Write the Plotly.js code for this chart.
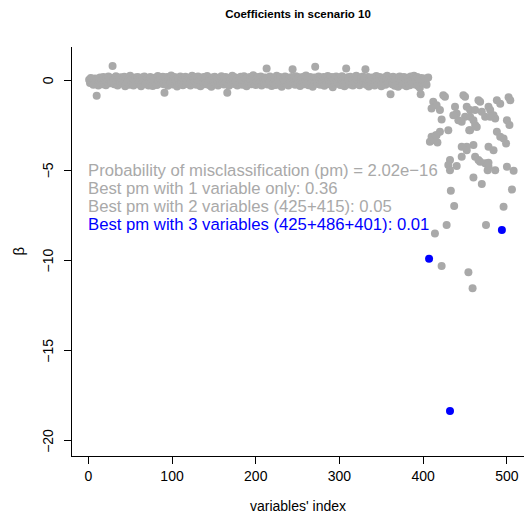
<!DOCTYPE html>
<html>
<head>
<meta charset="utf-8">
<script src="https://cdn.plot.ly/plotly-3.0.1.min.js"></script>
<style>html,body{margin:0;padding:0;background:#fff;}#chart{width:530px;height:517px;}</style>
</head>
<body>
<div id="chart"></div>
<script>
// Coefficients of the 400 noise variables (index 1..400)
const noiseBeta = [
0.02,-0.15,0.12,-0.08,0.05,-0.25,-0.02,0.10,-0.12,-0.87,0.08,-0.30,0.03,0.15,-0.18,-0.01,-0.22,0.18,-0.06,0.06,
-0.28,0.09,-0.10,0.20,-0.03,-0.17,0.14,-0.13,0.78,0.02,-0.23,0.07,0.22,-0.08,-0.30,0.11,-0.04,-0.15,0.16,0.03,
-0.19,0.06,0.19,-0.33,0.00,0.13,-0.11,0.08,-0.25,0.24,-0.02,-0.14,0.10,-0.29,0.04,0.15,-0.07,-0.21,0.18,0.01,
-0.14,0.09,-0.34,0.03,0.16,-0.09,0.21,-0.23,0.05,-0.06,0.12,-0.30,0.02,0.17,-0.16,0.07,-0.32,0.00,0.14,-0.11,
0.10,-0.27,0.23,-0.03,-0.19,0.15,-0.10,0.05,0.19,-0.22,-0.70,0.08,-0.08,0.18,-0.31,0.03,0.11,-0.15,0.26,-0.02,
-0.24,0.06,0.17,-0.12,0.01,-0.35,0.13,0.04,-0.17,0.21,-0.05,0.10,-0.28,0.07,-0.01,0.19,-0.21,0.05,-0.10,0.14,
0.09,-0.30,0.02,0.25,-0.14,0.12,-0.07,0.17,-0.25,0.06,0.20,-0.18,0.00,-0.33,0.14,0.07,-0.09,0.18,-0.22,0.04,
-0.13,0.23,-0.02,-0.27,0.11,0.03,-0.36,0.15,0.06,-0.09,0.19,-0.20,0.08,-0.03,-0.29,0.13,0.02,-0.16,0.22,-0.06,
0.11,-0.24,0.05,0.17,-0.11,-0.70,0.09,-0.31,0.14,0.00,-0.15,0.24,0.03,-0.21,0.16,-0.08,0.07,-0.29,0.12,-0.01,
-0.18,0.19,0.06,-0.26,0.01,0.22,-0.12,0.10,-0.34,0.14,-0.02,-0.17,0.18,0.04,-0.23,0.08,0.28,-0.10,0.12,-0.27,
0.07,-0.06,0.17,-0.20,0.02,0.21,-0.30,0.09,-0.03,-0.14,0.15,0.05,0.65,-0.24,0.12,-0.10,0.20,0.00,-0.32,0.10,
-0.16,0.14,0.03,-0.27,0.25,-0.05,0.08,-0.22,0.18,0.01,-0.37,0.11,0.06,-0.11,0.20,-0.18,-0.01,0.15,-0.29,0.08,
0.02,-0.15,0.18,0.60,-0.08,0.12,-0.25,0.22,0.05,-0.19,-0.02,0.16,-0.32,0.09,0.03,-0.13,0.19,-0.23,0.07,0.26,
-0.07,0.13,-0.28,0.04,0.17,-0.16,0.10,-0.36,-0.01,0.15,0.74,-0.12,0.08,-0.21,0.21,0.01,-0.26,0.12,0.06,-0.09,
0.18,-0.31,0.08,-0.02,-0.17,0.23,0.04,-0.23,0.13,-0.06,0.17,-0.39,0.07,0.02,-0.20,0.20,-0.04,-0.14,0.14,0.09,
-0.27,0.05,0.22,-0.10,0.11,-0.34,0.00,0.65,-0.18,0.16,0.06,-0.24,0.19,-0.05,0.08,-0.30,0.13,0.03,-0.13,0.24,
-0.01,-0.21,0.16,-0.28,0.07,0.01,-0.16,0.20,-0.08,0.12,0.60,-0.25,0.04,0.18,-0.35,0.09,-0.03,-0.19,0.15,-0.12,
0.13,-0.29,0.02,0.23,-0.15,0.06,-0.23,0.18,0.00,-0.33,0.10,0.05,-0.10,0.16,-0.26,0.07,0.25,-0.17,-0.02,0.14,
-0.78,0.07,-0.22,0.19,0.01,-0.31,0.11,-0.07,0.15,-0.37,0.04,0.21,-0.14,0.09,-0.26,-0.01,0.18,-0.19,0.06,-0.34,
0.14,-0.11,0.08,-0.28,0.20,0.02,-0.20,0.05,0.24,-0.24,0.10,-0.06,0.17,-0.32,0.07,-0.42,-0.78,0.12,-0.15,0.01
];

// Informative variables: positions and coefficients
const infoIndex = [402,403,404,406,424,426,412,416,410,420,422,438,440,436,448,450,450,452,456,442,446,456,460,466,468,462,470,462,464,456,474,478,480,488,492,484,486,480,502,504,500,503,408,410,412,416,420,430,455,452,446,452,460,488,492,496,499,478,484,446,432,430,462,466,474,478,500,432,440,468,478,477,486,460,470,508,506,496,433,437,428,414,475,422,454,459,413,417,415];
const infoBeta  = [0.10,-0.05,-0.25,0.15,-0.83,-0.92,-1.20,-1.39,-1.57,-1.66,-2.18,-1.48,-1.85,-1.94,-0.83,-0.92,-2.03,-1.48,-1.66,-2.22,-2.31,-2.03,-2.22,-1.11,-1.20,-1.66,-1.75,-2.49,-2.59,-2.77,-2.03,-1.48,-1.66,-1.11,-1.30,-1.94,-2.12,-2.03,-0.95,-1.11,-2.22,-2.49,-3.41,-3.14,-3.32,-3.05,-2.86,-2.77,-2.77,-3.69,-3.69,-3.88,-3.60,-2.86,-3.14,-3.23,-3.51,-3.69,-3.88,-4.25,-4.43,-4.70,-4.25,-4.43,-4.61,-4.80,-4.80,-4.99,-4.76,-4.52,-4.58,-4.99,-4.99,-5.39,-5.76,-5.02,-6.06,-7.02,-6.13,-6.98,-8.03,-8.50,-8.03,-10.30,-10.65,-11.54,-3.30,-3.45,-3.05];

// Best three-variable selection (highlighted in blue)
const bestIndex = [407,432,494];
const bestBeta  = [-9.9,-18.35,-8.31];

const xTicks = [0,100,200,300,400,500];
const yTicks = [-20,-15,-10,-5,0];
const yTickText = ["\u221220","\u221215","\u221210","\u22125","0"];
const notes = [
  {text:"Probability of misclassification (pm) = 2.02e\u221216", y:-5, color:"#A9A9A9"},
  {text:"Best pm with 1 variable only: 0.36", y:-6, color:"#A9A9A9"},
  {text:"Best pm with 2 variables (425+415): 0.05", y:-7, color:"#A9A9A9"},
  {text:"Best pm with 3 variables (425+486+401): 0.01", y:-8, color:"#0000FF"}
];

const noiseIndex = noiseBeta.map((v,i)=>i+1);
const FONT = "Liberation Sans, Arial, Helvetica, sans-serif";

const traces = [
  {x: noiseIndex.concat(infoIndex), y: noiseBeta.concat(infoBeta), type:"scatter", mode:"markers",
   marker:{color:"#A9A9A9", size:8}, hoverinfo:"skip"},
  {x: bestIndex, y: bestBeta, type:"scatter", mode:"markers",
   marker:{color:"#0000FF", size:8}, hoverinfo:"skip"}
];

const noteAnn = notes.map(n=>({x:0, y:n.y, xref:"x", yref:"y", text:n.text, showarrow:false, xanchor:"left", yanchor:"middle",
       xshift:-1, borderpad:0, font:{family:FONT, size:16.7, color:n.color}}));
// rotated y tick labels, as in the reference (R style, las=0)
const yTickAnn = yTicks.map((v,i)=>({x:0, y:v, xref:"paper", yref:"y", text:yTickText[i], showarrow:false, textangle:-90,
       xanchor:"center", yanchor:"middle", xshift:-24, font:{family:FONT, size:14, color:"#000"}}));
const yTitleAnn = {x:0, y:0.5, xref:"paper", yref:"paper", text:"\u03B2", showarrow:false, textangle:-90,
       xanchor:"center", yanchor:"middle", xshift:-54, font:{family:FONT, size:15, color:"#000"}};

const layout = {
  width:530, height:517,
  margin:{l:72, r:6, t:47, b:61},
  paper_bgcolor:"#fff", plot_bgcolor:"#fff",
  showlegend:false,
  font:{family:FONT, size:14, color:"#000"},
  title:{text:"<b>Coefficients in scenario 10</b>", x:298/530, xanchor:"center", y:1-14/517, yanchor:"middle", yref:"container",
         font:{family:FONT, size:11.5, color:"#000"}},
  xaxis:{range:[-19.47,520.4], tickvals:xTicks, ticktext:xTicks.map(String), ticks:"outside", ticklen:7, tickcolor:"#000",
         showline:true, linecolor:"#000", linewidth:1, showgrid:false, zeroline:false,
         tickfont:{family:FONT, size:14}, ticklabelstandoff:0,
         title:{text:"variables' index", font:{family:FONT, size:14}, standoff:18}},
  yaxis:{range:[-20.84,1.84], tickvals:yTicks, showticklabels:false, ticks:"outside", ticklen:7, tickcolor:"#000",
         showline:true, linecolor:"#000", linewidth:1, showgrid:false, zeroline:false,
         title:{text:""}},
  annotations: noteAnn.concat(yTickAnn, [yTitleAnn])
};

Plotly.newPlot("chart", traces, layout, {displayModeBar:false, staticPlot:true});
</script>
</body>
</html>
